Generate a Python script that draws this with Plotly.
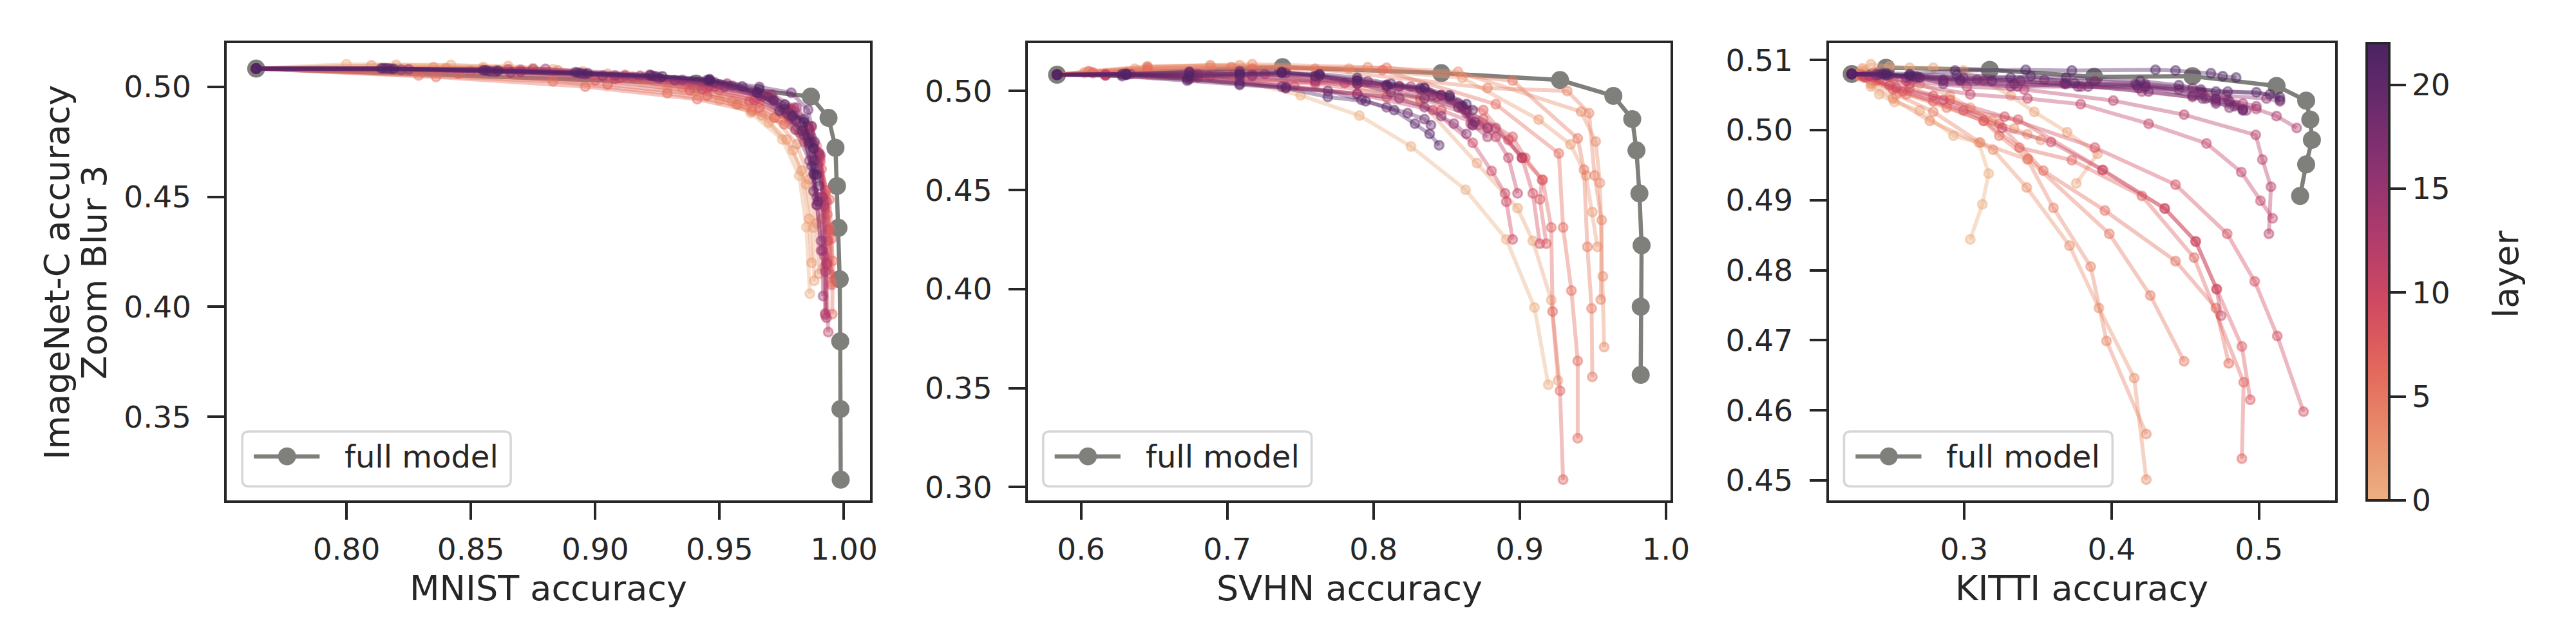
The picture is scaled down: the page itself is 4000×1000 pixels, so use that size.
import plotly.graph_objects as go

# ---- data -------------------------------------------------------------
n_layers = 23
layer_max = 22

mnist_full_x = [0.7637, 0.9405, 0.9867, 0.9938, 0.9966, 0.9972, 0.9978, 0.9983, 0.9985, 0.9986, 0.9987]
mnist_full_y = [0.5083, 0.5015, 0.4956, 0.4859, 0.4723, 0.4549, 0.4359, 0.4125, 0.3843, 0.3535, 0.3214]

mnist_layer_x = [
    [0.7637, 0.800, 0.842, 0.883, 0.929, 0.950, 0.9625, 0.9752, 0.9820, 0.9849, 0.9863],
    [0.7637, 0.820, 0.865, 0.905, 0.940, 0.958, 0.9698, 0.9795, 0.9848, 0.9877, 0.9880],
    [0.7637, 0.810, 0.855, 0.895, 0.935, 0.955, 0.9670, 0.9770, 0.9830, 0.9860, 0.9870],
    [0.7637, 0.835, 0.875, 0.912, 0.945, 0.962, 0.9720, 0.9810, 0.9860, 0.9890, 0.9900],
    [0.7637, 0.840, 0.885, 0.920, 0.950, 0.966, 0.9760, 0.9840, 0.9880, 0.9910, 0.9920],
    [0.7637, 0.829, 0.883, 0.929, 0.957, 0.972, 0.9820, 0.9890, 0.9925, 0.9942, 0.9950],
    [0.7637, 0.836, 0.896, 0.941, 0.963, 0.976, 0.9850, 0.9899, 0.9942, 0.9955, 0.9953],
    [0.7637, 0.845, 0.905, 0.945, 0.966, 0.978, 0.9860, 0.9910, 0.9933, 0.9950, 0.9950],
    [0.7637, 0.850, 0.900, 0.938, 0.962, 0.975, 0.9840, 0.9900, 0.9930, 0.9940, 0.9945],
    [0.7637, 0.860, 0.910, 0.945, 0.965, 0.978, 0.9860, 0.9905, 0.9930, 0.9935, 0.9933],
    [0.7637, 0.855, 0.908, 0.943, 0.964, 0.977, 0.9850, 0.9905, 0.9925, 0.9930, 0.9925],
    [0.7637, 0.870, 0.915, 0.948, 0.967, 0.979, 0.9860, 0.9900, 0.9920, 0.9930, 0.9937],
    [0.7637, 0.865, 0.912, 0.946, 0.966, 0.978, 0.9850, 0.9895, 0.9915, 0.9922, 0.9925],
    [0.7637, 0.875, 0.918, 0.950, 0.969, 0.980, 0.9870, 0.9905, 0.9920, 0.9925, 0.9930],
    [0.7637, 0.880, 0.922, 0.953, 0.971, 0.981, 0.9870, 0.9900, 0.9912, 0.9915, 0.9916],
    [0.7637, 0.825, 0.870, 0.908, 0.935, 0.955, 0.9700, 0.9800, 0.9860, 0.9890, 0.9908],
    [0.7637, 0.822, 0.866, 0.903, 0.932, 0.952, 0.9717, 0.9805, 0.9861, 0.9891, 0.9908],
    [0.7637, 0.818, 0.860, 0.896, 0.926, 0.946, 0.9651, 0.9762, 0.9839, 0.9878, 0.9891],
    [0.7637, 0.817, 0.858, 0.895, 0.925, 0.948, 0.9717, 0.9805, 0.9856, 0.9882, 0.9878],
    [0.7637, 0.816, 0.857, 0.894, 0.924, 0.946, 0.9660, 0.9788, 0.9856, 0.9882, 0.9900],
    [0.7637, 0.815, 0.856, 0.893, 0.923, 0.945, 0.9591, 0.9741, 0.9831, 0.9870, 0.9895],
    [0.7637, 0.814, 0.855, 0.892, 0.922, 0.946, 0.9651, 0.9792, 0.9839, 0.9861, 0.9880],
    [0.7637, 0.819, 0.861, 0.897, 0.927, 0.946, 0.9659, 0.9762, 0.9839, 0.9878, 0.9891],
]
mnist_layer_y = [
    [0.5083, 0.5103, 0.5100, 0.5080, 0.4990, 0.4940, 0.4882, 0.4761, 0.4596, 0.4362, 0.4060],
    [0.5083, 0.5100, 0.5095, 0.5060, 0.4985, 0.4920, 0.4838, 0.4711, 0.4557, 0.4360, 0.4118],
    [0.5083, 0.5098, 0.5090, 0.5070, 0.4995, 0.4935, 0.4870, 0.4760, 0.4620, 0.4400, 0.4200],
    [0.5083, 0.5090, 0.5085, 0.5055, 0.4990, 0.4925, 0.4860, 0.4740, 0.4580, 0.4380, 0.4150],
    [0.5083, 0.5085, 0.5075, 0.5045, 0.4985, 0.4930, 0.4860, 0.4750, 0.4600, 0.4400, 0.4180],
    [0.5083, 0.5052, 0.5025, 0.4971, 0.4920, 0.4860, 0.4790, 0.4732, 0.4511, 0.4357, 0.4111],
    [0.5083, 0.5045, 0.5001, 0.4944, 0.4890, 0.4830, 0.4760, 0.4655, 0.4487, 0.4208, 0.3967],
    [0.5083, 0.5060, 0.5011, 0.4960, 0.4905, 0.4850, 0.4780, 0.4626, 0.4420, 0.4309, 0.4100],
    [0.5083, 0.5070, 0.5030, 0.4985, 0.4935, 0.4880, 0.4800, 0.4690, 0.4530, 0.4350, 0.4150],
    [0.5083, 0.5075, 0.5040, 0.4995, 0.4950, 0.4890, 0.4810, 0.4680, 0.4480, 0.4300, 0.4198],
    [0.5083, 0.5072, 0.5035, 0.4990, 0.4940, 0.4880, 0.4800, 0.4660, 0.4450, 0.4200, 0.3962],
    [0.5083, 0.5078, 0.5045, 0.5000, 0.4955, 0.4895, 0.4815, 0.4690, 0.4480, 0.4190, 0.3885],
    [0.5083, 0.5080, 0.5050, 0.5005, 0.4960, 0.4900, 0.4820, 0.4700, 0.4500, 0.4230, 0.3970],
    [0.5083, 0.5080, 0.5050, 0.5010, 0.4965, 0.4905, 0.4820, 0.4690, 0.4460, 0.4160, 0.3950],
    [0.5083, 0.5082, 0.5055, 0.5015, 0.4965, 0.4905, 0.4820, 0.4700, 0.4500, 0.4256, 0.4049],
    [0.5083, 0.5080, 0.5068, 0.5052, 0.5032, 0.5005, 0.4955, 0.4870, 0.4740, 0.4500, 0.4256],
    [0.5083, 0.5078, 0.5065, 0.5050, 0.5030, 0.5000, 0.4940, 0.4805, 0.4665, 0.4463, 0.4300],
    [0.5083, 0.5082, 0.5068, 0.5058, 0.5040, 0.5028, 0.4973, 0.4900, 0.4780, 0.4607, 0.4463],
    [0.5083, 0.5083, 0.5070, 0.5060, 0.5045, 0.5020, 0.4940, 0.4850, 0.4770, 0.4665, 0.4525],
    [0.5083, 0.5084, 0.5073, 0.5062, 0.5048, 0.5031, 0.5000, 0.4973, 0.4896, 0.4750, 0.4550],
    [0.5083, 0.5085, 0.5075, 0.5065, 0.5050, 0.5031, 0.5002, 0.4891, 0.4800, 0.4640, 0.4480],
    [0.5083, 0.5084, 0.5076, 0.5066, 0.5052, 0.5028, 0.4975, 0.4867, 0.4853, 0.4750, 0.4600],
    [0.5083, 0.5082, 0.5074, 0.5062, 0.5048, 0.5035, 0.4990, 0.4920, 0.4840, 0.4720, 0.4600],
]

svhn_full_x = [0.5836, 0.7378, 0.8464, 0.9276, 0.9641, 0.9770, 0.9799, 0.9819, 0.9834, 0.9828, 0.9828]
svhn_full_y = [0.5082, 0.5120, 0.5090, 0.5055, 0.4975, 0.4858, 0.4700, 0.4483, 0.4221, 0.3911, 0.3567]

svhn_layer_x = [
    [0.5836, 0.6023, 0.6310, 0.6827, 0.7502, 0.7904, 0.8257, 0.8630, 0.8909, 0.9101, 0.9196],
    [0.5836, 0.6023, 0.6367, 0.6884, 0.7602, 0.8320, 0.8708, 0.8986, 0.9090, 0.9216, 0.9262],
    [0.5836, 0.6052, 0.6454, 0.7085, 0.7832, 0.8607, 0.9130, 0.9348, 0.9454, 0.9497, 0.9532],
    [0.5836, 0.6052, 0.6454, 0.7171, 0.7961, 0.8579, 0.9420, 0.9520, 0.9549, 0.9569, 0.9578],
    [0.5836, 0.6052, 0.6454, 0.6884, 0.7602, 0.8780, 0.9325, 0.9475, 0.9512, 0.9561, 0.9555],
    [0.5836, 0.6080, 0.6454, 0.7028, 0.8090, 0.8952, 0.9397, 0.9440, 0.9463, 0.9492, 0.9497],
    [0.5836, 0.6080, 0.6454, 0.7171, 0.8062, 0.8837, 0.9268, 0.9297, 0.9354, 0.9397, 0.9397],
    [0.5836, 0.6167, 0.6884, 0.7889, 0.8751, 0.9016, 0.9158, 0.9216, 0.9225, 0.9276, 0.9297],
    [0.5836, 0.6167, 0.6798, 0.7602, 0.8320, 0.8751, 0.8952, 0.9038, 0.9153, 0.9138, 0.9182],
    [0.5836, 0.6167, 0.6741, 0.7459, 0.8090, 0.8464, 0.8780, 0.8923, 0.9016, 0.9090, 0.9138],
    [0.5836, 0.6167, 0.6741, 0.7401, 0.7889, 0.8406, 0.8679, 0.8808, 0.8900, 0.8909, 0.8952],
    [0.5836, 0.6167, 0.6798, 0.7602, 0.8090, 0.8435, 0.8607, 0.8722, 0.8837, 0.8923, 0.8986],
    [0.5836, 0.6310, 0.6798, 0.7258, 0.7803, 0.8177, 0.8378, 0.8521, 0.8636, 0.8837, 0.9016],
    [0.5836, 0.6310, 0.6741, 0.7171, 0.7631, 0.7961, 0.8255, 0.8464, 0.8579, 0.8665, 0.8780],
    [0.5836, 0.6281, 0.6741, 0.7085, 0.7602, 0.7889, 0.8090, 0.8349, 0.8464, 0.8607, 0.8679],
    [0.5836, 0.6339, 0.6741, 0.7171, 0.7602, 0.7889, 0.8090, 0.8320, 0.8464, 0.8636, 0.8780],
    [0.5836, 0.6296, 0.6726, 0.7085, 0.7401, 0.7889, 0.8177, 0.8349, 0.8464, 0.8550, 0.8636],
    [0.5836, 0.6310, 0.6769, 0.7085, 0.7401, 0.7631, 0.7889, 0.8177, 0.8406, 0.8607, 0.8679],
    [0.5836, 0.6310, 0.6741, 0.7085, 0.7373, 0.7631, 0.7889, 0.8119, 0.8349, 0.8579, 0.8693],
    [0.5836, 0.6281, 0.6726, 0.7085, 0.7373, 0.7688, 0.7918, 0.8090, 0.8234, 0.8349, 0.8393],
    [0.5836, 0.6310, 0.6741, 0.7085, 0.7373, 0.7602, 0.7889, 0.8090, 0.8320, 0.8521, 0.8679],
    [0.5836, 0.6281, 0.6726, 0.7085, 0.7401, 0.7688, 0.7947, 0.8142, 0.8284, 0.8384, 0.8449],
    [0.5836, 0.6310, 0.6741, 0.7085, 0.7373, 0.7631, 0.7889, 0.8119, 0.8349, 0.8521, 0.8636],
]
svhn_layer_y = [
    [0.5082, 0.5090, 0.5097, 0.5097, 0.4978, 0.4876, 0.4720, 0.4501, 0.4251, 0.3907, 0.3517],
    [0.5082, 0.5094, 0.5112, 0.5120, 0.5067, 0.4948, 0.4636, 0.4408, 0.4243, 0.3944, 0.3539],
    [0.5082, 0.5097, 0.5120, 0.5130, 0.5112, 0.5067, 0.4855, 0.4730, 0.4573, 0.4389, 0.4213],
    [0.5082, 0.5100, 0.5124, 0.5135, 0.5120, 0.5097, 0.4895, 0.4745, 0.4536, 0.4064, 0.3707],
    [0.5082, 0.5097, 0.5120, 0.5130, 0.5112, 0.5015, 0.5000, 0.4888, 0.4573, 0.4348, 0.3947],
    [0.5082, 0.5094, 0.5112, 0.5120, 0.5117, 0.5052, 0.4760, 0.4603, 0.4213, 0.3902, 0.3557],
    [0.5082, 0.5090, 0.5105, 0.5112, 0.5105, 0.4933, 0.4685, 0.4311, 0.3992, 0.3637, 0.3247],
    [0.5082, 0.5085, 0.5075, 0.5037, 0.4903, 0.4663, 0.4551, 0.4311, 0.3887, 0.3487, 0.3038],
    [0.5082, 0.5082, 0.5067, 0.5037, 0.4963, 0.4858, 0.4768, 0.4663, 0.4551, 0.4453, 0.4229],
    [0.5082, 0.5079, 0.5060, 0.5022, 0.4970, 0.4903, 0.4813, 0.4753, 0.4663, 0.4483, 0.4229],
    [0.5082, 0.5078, 0.5060, 0.5015, 0.4985, 0.4903, 0.4738, 0.4596, 0.4483, 0.4441, 0.4251],
    [0.5082, 0.5082, 0.5075, 0.5045, 0.5022, 0.4970, 0.4910, 0.4828, 0.4768, 0.4663, 0.4483],
    [0.5082, 0.5085, 0.5085, 0.5085, 0.5040, 0.5025, 0.4993, 0.4963, 0.4903, 0.4813, 0.4663],
    [0.5082, 0.5085, 0.5090, 0.5082, 0.5079, 0.5049, 0.5022, 0.4978, 0.4940, 0.4835, 0.4768],
    [0.5082, 0.5082, 0.5082, 0.5085, 0.5075, 0.5037, 0.5022, 0.5015, 0.4978, 0.4918, 0.4828],
    [0.5082, 0.5085, 0.5082, 0.5075, 0.5052, 0.5052, 0.5030, 0.5008, 0.4978, 0.4888, 0.4813],
    [0.5082, 0.5085, 0.5070, 0.5052, 0.5022, 0.4985, 0.4963, 0.4918, 0.4873, 0.4835, 0.4783],
    [0.5082, 0.5082, 0.5075, 0.5075, 0.5090, 0.5075, 0.5052, 0.5022, 0.4978, 0.4925, 0.4828],
    [0.5082, 0.5085, 0.5094, 0.5090, 0.5094, 0.5079, 0.5037, 0.4993, 0.4963, 0.4918, 0.4843],
    [0.5082, 0.5085, 0.5060, 0.5037, 0.5022, 0.5000, 0.4955, 0.4918, 0.4888, 0.4858, 0.4828],
    [0.5082, 0.5085, 0.5097, 0.5100, 0.5097, 0.5075, 0.5052, 0.5030, 0.5015, 0.4970, 0.4903],
    [0.5082, 0.5075, 0.5052, 0.5030, 0.5015, 0.4970, 0.4948, 0.4903, 0.4835, 0.4783, 0.4726],
    [0.5082, 0.5082, 0.5075, 0.5082, 0.5090, 0.5085, 0.5067, 0.5037, 0.5015, 0.4978, 0.4933],
]

kitti_full_x = [0.2238, 0.2471, 0.3174, 0.3882, 0.4549, 0.5119, 0.5320, 0.5348, 0.5359, 0.5320, 0.5279]
kitti_full_y = [0.5080, 0.5089, 0.5086, 0.5076, 0.5077, 0.5063, 0.5042, 0.5015, 0.4986, 0.4951, 0.4906]

kitti_layer_x = [
    [0.2238, 0.2311, 0.2368, 0.2425, 0.2528, 0.2699, 0.2928, 0.3099, 0.3167, 0.3124, 0.3042],
    [0.2238, 0.2368, 0.2494, 0.2631, 0.2791, 0.2996, 0.3316, 0.3476, 0.3699, 0.3905, 0.3761],
    [0.2238, 0.2311, 0.2403, 0.2517, 0.2699, 0.2905, 0.3042, 0.3190, 0.3339, 0.3430, 0.3521],
    [0.2238, 0.2288, 0.2368, 0.2517, 0.2768, 0.3197, 0.3425, 0.3715, 0.3914, 0.4154, 0.4236],
    [0.2238, 0.2288, 0.2380, 0.2540, 0.2791, 0.3110, 0.3430, 0.3606, 0.3859, 0.3966, 0.4236],
    [0.2238, 0.2288, 0.2403, 0.2608, 0.2882, 0.3133, 0.3238, 0.3434, 0.3985, 0.4263, 0.4492],
    [0.2238, 0.2300, 0.2425, 0.2631, 0.2905, 0.3238, 0.3537, 0.3955, 0.4434, 0.4708, 0.4795],
    [0.2238, 0.2323, 0.2517, 0.2791, 0.3133, 0.3375, 0.3731, 0.4206, 0.4560, 0.4896, 0.4884],
    [0.2238, 0.2334, 0.2585, 0.2996, 0.3366, 0.3943, 0.4361, 0.4571, 0.4713, 0.4884, 0.4941],
    [0.2238, 0.2311, 0.2494, 0.2791, 0.3275, 0.3887, 0.4434, 0.4784, 0.4971, 0.5124, 0.5302],
    [0.2238, 0.2323, 0.2540, 0.2859, 0.3259, 0.3590, 0.3937, 0.4361, 0.4571, 0.4713, 0.4743],
    [0.2238, 0.2357, 0.2631, 0.3042, 0.3430, 0.3791, 0.4252, 0.4644, 0.4880, 0.5010, 0.5092],
    [0.2238, 0.2357, 0.2608, 0.3019, 0.3407, 0.4012, 0.4492, 0.4978, 0.5023, 0.5081, 0.5067],
    [0.2238, 0.2403, 0.2699, 0.3133, 0.3681, 0.4206, 0.4549, 0.4845, 0.4982, 0.5119, 0.5256],
    [0.2238, 0.2403, 0.2631, 0.2973, 0.3361, 0.3795, 0.4229, 0.4606, 0.4708, 0.4891, 0.4982],
    [0.2238, 0.2403, 0.2608, 0.2859, 0.3316, 0.3681, 0.4160, 0.4617, 0.4788, 0.4891, 0.4914],
    [0.2238, 0.2425, 0.2677, 0.3088, 0.3544, 0.3887, 0.4229, 0.4549, 0.4777, 0.5051, 0.5142],
    [0.2238, 0.2425, 0.2631, 0.2996, 0.3384, 0.3772, 0.4183, 0.4457, 0.4640, 0.4708, 0.4800],
    [0.2238, 0.2471, 0.2699, 0.2859, 0.3339, 0.3841, 0.4252, 0.4617, 0.4708, 0.4834, 0.4891],
    [0.2238, 0.2494, 0.2677, 0.2859, 0.3190, 0.3692, 0.4229, 0.4549, 0.4708, 0.4800, 0.4891],
    [0.2238, 0.2471, 0.2654, 0.2973, 0.3453, 0.3749, 0.4172, 0.4606, 0.4788, 0.5074, 0.5142],
    [0.2238, 0.2448, 0.2631, 0.2951, 0.3316, 0.3692, 0.4195, 0.4457, 0.4708, 0.4982, 0.5142],
    [0.2238, 0.2471, 0.2631, 0.2939, 0.3418, 0.3731, 0.4298, 0.4434, 0.4674, 0.4754, 0.4845],
]
kitti_layer_y = [
    [0.5080, 0.5085, 0.5062, 0.5051, 0.5040, 0.5028, 0.4992, 0.4982, 0.4938, 0.4894, 0.4844],
    [0.5080, 0.5094, 0.5091, 0.5089, 0.5089, 0.5085, 0.5049, 0.5026, 0.4997, 0.4966, 0.4924],
    [0.5080, 0.5088, 0.5083, 0.5072, 0.5066, 0.5049, 0.5032, 0.5013, 0.5002, 0.4994, 0.4986],
    [0.5080, 0.5077, 0.5066, 0.5045, 0.5013, 0.4972, 0.4918, 0.4835, 0.4746, 0.4646, 0.4501],
    [0.5080, 0.5079, 0.5070, 0.5051, 0.5026, 0.4982, 0.4958, 0.4889, 0.4805, 0.4699, 0.4566],
    [0.5080, 0.5079, 0.5070, 0.5051, 0.5032, 0.5013, 0.4992, 0.4959, 0.4852, 0.4764, 0.4670],
    [0.5080, 0.5080, 0.5072, 0.5060, 0.5043, 0.5009, 0.4942, 0.4885, 0.4813, 0.4746, 0.4667],
    [0.5080, 0.5075, 0.5058, 0.5041, 0.5013, 0.4975, 0.4957, 0.4906, 0.4818, 0.4640, 0.4531],
    [0.5080, 0.5075, 0.5055, 0.5028, 0.5015, 0.4943, 0.4888, 0.4841, 0.4773, 0.4691, 0.4615],
    [0.5080, 0.5077, 0.5064, 0.5049, 0.5019, 0.4975, 0.4922, 0.4852, 0.4784, 0.4706, 0.4598],
    [0.5080, 0.5077, 0.5060, 0.5043, 0.5003, 0.4983, 0.4943, 0.4888, 0.4841, 0.4773, 0.4735],
    [0.5080, 0.5077, 0.5066, 0.5051, 0.5045, 0.5037, 0.5009, 0.4981, 0.4940, 0.4899, 0.4874],
    [0.5080, 0.5078, 0.5070, 0.5062, 0.5058, 0.5042, 0.5022, 0.4993, 0.4958, 0.4919, 0.4852],
    [0.5080, 0.5080, 0.5075, 0.5071, 0.5067, 0.5055, 0.5047, 0.5036, 0.5030, 0.5020, 0.5003],
    [0.5080, 0.5079, 0.5075, 0.5070, 0.5062, 0.5062, 0.5062, 0.5055, 0.5045, 0.5038, 0.5034],
    [0.5080, 0.5078, 0.5075, 0.5070, 0.5062, 0.5066, 0.5066, 0.5053, 0.5043, 0.5030, 0.5028],
    [0.5080, 0.5080, 0.5077, 0.5072, 0.5072, 0.5070, 0.5066, 0.5060, 0.5049, 0.5045, 0.5041],
    [0.5080, 0.5079, 0.5077, 0.5075, 0.5070, 0.5062, 0.5060, 0.5058, 0.5045, 0.5041, 0.5032],
    [0.5080, 0.5078, 0.5075, 0.5066, 0.5066, 0.5062, 0.5055, 0.5045, 0.5038, 0.5034, 0.5028],
    [0.5080, 0.5079, 0.5075, 0.5072, 0.5070, 0.5066, 0.5062, 0.5049, 0.5045, 0.5041, 0.5029],
    [0.5080, 0.5079, 0.5077, 0.5072, 0.5077, 0.5067, 0.5064, 0.5058, 0.5055, 0.5051, 0.5043],
    [0.5080, 0.5080, 0.5078, 0.5079, 0.5075, 0.5075, 0.5070, 0.5064, 0.5055, 0.5054, 0.5047],
    [0.5080, 0.5081, 0.5080, 0.5085, 0.5086, 0.5085, 0.5086, 0.5085, 0.5081, 0.5077, 0.5075],
]

x_titles = ["MNIST accuracy", "SVHN accuracy", "KITTI accuracy"]
y_title_lines = ["ImageNet-C accuracy", "Zoom Blur 3"]
mnist_xticks = [0.80, 0.85, 0.90, 0.95, 1.00]
svhn_xticks = [0.6, 0.7, 0.8, 0.9, 1.0]
kitti_xticks = [0.3, 0.4, 0.5]
mnist_yticks = [0.35, 0.40, 0.45, 0.50]
svhn_yticks = [0.30, 0.35, 0.40, 0.45, 0.50]
kitti_yticks = [0.45, 0.46, 0.47, 0.48, 0.49, 0.50, 0.51]
cbar_ticks = [0, 5, 10, 15, 20]

# ---- style ------------------------------------------------------------
W, H = 4000, 1000
FONT = "DejaVu Sans"
INK = "#262626"
GRAY = "#7f7f7b"
FLARE = ["#ECB081", "#E98D6B", "#E3685C", "#D14A61",
         "#B13C6C", "#8F3371", "#6C2B6D", "#4B2362"]
flare_scale = [[i / (len(FLARE) - 1), c] for i, c in enumerate(FLARE)]


def hex_rgb(h):
    h = h.lstrip("#")
    return [int(h[i:i + 2], 16) for i in (0, 2, 4)]


def layer_color(layer, alpha):
    t = layer / layer_max * (len(FLARE) - 1)
    i = min(int(t), len(FLARE) - 2)
    f = t - i
    a, b = hex_rgb(FLARE[i]), hex_rgb(FLARE[i + 1])
    r, g, bl = [round(a[k] + (b[k] - a[k]) * f) for k in range(3)]
    return f"rgba({r},{g},{bl},{alpha})"


def pad_range(vals):
    lo, hi = min(vals), max(vals)
    d = (hi - lo) * 0.05
    return [lo - d, hi + d]


def px(x):
    return x / W


def py(y):
    return 1 - y / H


# panel boxes in pixels (left, right); shared top/bottom
spines = [(347, 1353), (1600, 2606), (2853, 3645)]
top, bottom = 58, 774

panels = [
    (mnist_full_x, mnist_full_y, mnist_layer_x, mnist_layer_y, mnist_xticks, mnist_yticks, ".2f", ".2f"),
    (svhn_full_x, svhn_full_y, svhn_layer_x, svhn_layer_y, svhn_xticks, svhn_yticks, ".1f", ".2f"),
    (kitti_full_x, kitti_full_y, kitti_layer_x, kitti_layer_y, kitti_xticks, kitti_yticks, ".1f", ".2f"),
]

fig = go.Figure()
layout = dict(
    width=W, height=H,
    margin=dict(l=0, r=0, t=0, b=0),
    paper_bgcolor="white", plot_bgcolor="white",
    showlegend=False,
    font=dict(family=FONT, color=INK),
)
shapes = []
annotations = []

for k, (fx, fy, lx, ly, xt, yt, xfmt, yfmt) in enumerate(panels):
    sfx = "" if k == 0 else str(k + 1)
    xa, ya = "x" + sfx, "y" + sfx

    fig.add_trace(go.Scatter(
        x=fx, y=fy, xaxis=xa, yaxis=ya, mode="lines+markers",
        line=dict(color=GRAY, width=6.5),
        marker=dict(color=GRAY, size=28),
        name="full model", hoverinfo="skip"))
    for layer in range(n_layers):
        fig.add_trace(go.Scatter(
            x=lx[layer], y=ly[layer], xaxis=xa, yaxis=ya, mode="lines+markers",
            line=dict(color=layer_color(layer, 0.4), width=6),
            marker=dict(color=layer_color(layer, 0.4), size=14,
                        line=dict(color=layer_color(layer, 0.45), width=3)),
            name=f"layer {layer}", hoverinfo="skip"))

    all_x = fx + [v for row in lx for v in row]
    all_y = fy + [v for row in ly for v in row]
    left, right = spines[k]
    common = dict(showgrid=False, zeroline=False, showline=True, mirror=True,
                  linecolor=INK, linewidth=4, ticks="outside", ticklen=26,
                  tickwidth=4, tickcolor=INK,
                  tickfont=dict(family=FONT, size=47, color=INK))
    layout["xaxis" + sfx] = dict(common, domain=[px(left), px(right)], anchor=ya,
                                 range=pad_range(all_x), tickvals=xt, tickformat=xfmt,
                                 ticklabelstandoff=6)
    layout["yaxis" + sfx] = dict(common, domain=[py(bottom), py(top)], anchor=xa,
                                 range=pad_range(all_y), tickvals=yt, tickformat=yfmt,
                                 ticklabelstandoff=16)

    # x axis title
    annotations.append(dict(text=x_titles[k], xref="paper", yref="paper",
                            x=px((left + right) / 2), y=py(912), xanchor="center",
                            yanchor="middle", showarrow=False,
                            font=dict(family=FONT, size=54, color=INK)))

    # legend box (bottom-left inside each panel)
    x0, x1 = left + 24, left + 444
    y0, y1 = 666, 752
    r = 10
    path = (f"M{px(x0 + r)},{py(y0)} L{px(x1 - r)},{py(y0)} Q{px(x1)},{py(y0)} {px(x1)},{py(y0 + r)} "
            f"L{px(x1)},{py(y1 - r)} Q{px(x1)},{py(y1)} {px(x1 - r)},{py(y1)} "
            f"L{px(x0 + r)},{py(y1)} Q{px(x0)},{py(y1)} {px(x0)},{py(y1 - r)} "
            f"L{px(x0)},{py(y0 + r)} Q{px(x0)},{py(y0)} {px(x0 + r)},{py(y0)} Z")
    shapes.append(dict(type="path", path=path, xref="paper", yref="paper",
                       fillcolor="rgba(255,255,255,0.8)",
                       line=dict(color="#d6d6d6", width=3.5), layer="above"))
    ly_c = 705
    shapes.append(dict(type="line", xref="paper", yref="paper",
                       x0=px(left + 42), x1=px(left + 145), y0=py(ly_c), y1=py(ly_c),
                       line=dict(color=GRAY, width=6.5), layer="above"))
    cx, rad = left + 94, 14
    shapes.append(dict(type="circle", xref="paper", yref="paper",
                       x0=px(cx - rad), x1=px(cx + rad), y0=py(ly_c + rad), y1=py(ly_c - rad),
                       fillcolor=GRAY, line=dict(color=GRAY, width=0), layer="above"))
    annotations.append(dict(text="full model", xref="paper", yref="paper",
                            x=px(left + 182), y=py(ly_c), xanchor="left", yanchor="middle",
                            showarrow=False, font=dict(family=FONT, size=48, color=INK)))

# y axis title: two lines, rotated
for line_text, xc in zip(y_title_lines, [81, 139]):
    annotations.append(dict(text=line_text, xref="paper", yref="paper",
                            x=px(xc), y=py((top + bottom) / 2), textangle=-90,
                            xanchor="center", yanchor="middle", showarrow=False,
                            font=dict(family=FONT, size=54, color=INK)))

# colorbar for layer index
fig.add_trace(go.Scatter(
    x=[kitti_full_x[0]], y=[kitti_full_y[0]], xaxis="x3", yaxis="y3", mode="markers",
    marker=dict(size=1, opacity=0, color=[0], cmin=0, cmax=layer_max,
                colorscale=flare_scale, showscale=True,
                colorbar=dict(x=px(3695), xanchor="left", xpad=0, ypad=0,
                              y=py(bottom), yanchor="bottom", len=(bottom - top) / H,
                              lenmode="fraction", thickness=35, thicknessmode="pixels",
                              outlinewidth=4, outlinecolor=INK,
                              ticks="outside", ticklen=24, tickwidth=4, tickcolor=INK,
                              tickvals=cbar_ticks,
                              tickfont=dict(family=FONT, size=47, color=INK))),
    hoverinfo="skip", showlegend=False))

annotations.append(dict(text="layer", xref="paper", yref="paper",
                        x=px(3913), y=py(420), textangle=-90, xanchor="center",
                        yanchor="middle", showarrow=False,
                        font=dict(family=FONT, size=54, color=INK)))

layout["shapes"] = shapes
layout["annotations"] = annotations
fig.update_layout(**layout)
fig.write_html("out.html")
